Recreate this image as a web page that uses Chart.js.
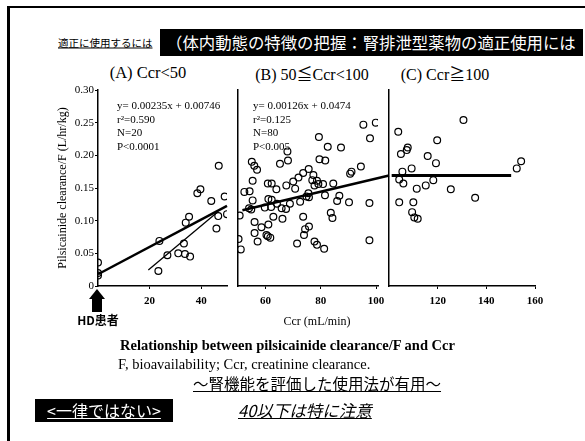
<!DOCTYPE html>
<html>
<head>
<meta charset="utf-8">
<script src="https://cdn.jsdelivr.net/npm/chart.js@4/dist/chart.umd.min.js"></script>
<style>
  body { margin: 0; background: #fff; width: 585px; height: 441px; overflow: hidden; position: relative; }
  .t { position: absolute; white-space: nowrap; color: #000; }
  .serif { font-family: "Liberation Serif", "Noto Sans CJK JP", serif; }
  .jp { font-family: "Noto Sans CJK JP", sans-serif; }
  canvas { position: absolute; }
</style>
</head>
<body>
<div style="position:absolute;left:7px;top:6px;width:620px;height:460px;border:2px solid #000;border-left-width:3px;"></div>

<div class="t jp" style="left:58px;top:42px;transform:translateY(-50%);font-size:10.5px;text-decoration:underline;">適正に使用するには</div>
<div style="position:absolute;left:160px;top:29px;width:423px;height:27px;background:#000;overflow:hidden;">
  <div class="t jp" style="left:6px;top:0;line-height:27px;font-size:16.4px;color:#fff;">（体内動態の特徴の把握：腎排泄型薬物の適正使用には</div>
</div>

<div class="t serif" style="left:148px;top:73px;transform:translate(-50%,-50%);font-size:16.5px;">(A) Ccr&lt;50</div>
<div class="t serif" style="left:312px;top:73px;transform:translate(-50%,-50%);font-size:16px;">(B) 50≦Ccr&lt;100</div>
<div class="t serif" style="left:445px;top:73px;transform:translate(-50%,-50%);font-size:16px;">(C) Ccr≧100</div>

<canvas id="chartA" width="190" height="240" style="left:50px;top:80px;"></canvas>
<canvas id="chartB" width="165" height="240" style="left:230px;top:80px;"></canvas>
<canvas id="chartC" width="200" height="240" style="left:380px;top:80px;"></canvas>

<div class="t serif" style="left:117px;top:99px;font-size:11px;line-height:13.5px;">y= 0.00235x + 0.00746<br>r²=0.590<br>N=20<br>P&lt;0.0001</div>
<div class="t serif" style="left:253px;top:99px;font-size:11px;line-height:13.5px;">y= 0.00126x + 0.0474<br>r²=0.125<br>N=80<br>P&lt;0.005</div>

<div style="position:absolute;left:89px;top:289px;width:0;height:0;border-left:8px solid transparent;border-right:8px solid transparent;border-bottom:10px solid #000;"></div>
<div style="position:absolute;left:92px;top:298px;width:10px;height:14px;background:#000;"></div>
<div class="t jp" style="left:98px;top:319px;transform:translate(-50%,-50%);font-size:12px;font-weight:bold;">HD患者</div>

<div class="t serif" style="left:317px;top:321px;transform:translate(-50%,-50%);font-size:12px;">Ccr (mL/min)</div>
<div class="t serif" style="left:120px;top:345px;transform:translateY(-50%);font-size:14.5px;font-weight:bold;">Relationship between pilsicainide clearance/F and Ccr</div>
<div class="t serif" style="left:118px;top:364px;transform:translateY(-50%);font-size:14.5px;">F, bioavailability; Ccr, creatinine clearance.</div>
<div class="t jp" style="left:193px;top:383px;transform:translateY(-50%);font-size:15.5px;text-decoration:underline;">～腎機能を評価した使用法が有用～</div>
<div class="t jp" style="left:238px;top:410px;transform:translateY(-50%);font-size:16.5px;font-style:italic;text-decoration:underline;">40以下は特に注意</div>
<div style="position:absolute;left:35px;top:399px;width:138px;height:23px;background:#000;">
  <div class="t jp" style="left:0;width:138px;text-align:center;top:0;line-height:23px;font-size:16px;color:#fff;text-decoration:underline;">&lt;一律ではない&gt;</div>
</div>

<script>
// panel A: Ccr < 50 (HD patients at 0)
const ccrA = [0, 0, 0, 23.4, 23.8, 26.9, 31.1, 33.3, 33.7, 35.7, 34.0, 35.3, 38.5, 39.7, 43.9, 46.8, 49.1, 46.6, 50.0, 45.9];
const clA = [0.036, 0.020, 0.016, 0.023, 0.069, 0.047, 0.050, 0.065, 0.049, 0.045, 0.097, 0.106, 0.142, 0.148, 0.130, 0.184, 0.137, 0.107, 0.110, 0.088];
const fitAx = [0, 50];
const fitAy = [0.018, 0.1225];
const fitA2x = [19.5, 46.6];
const fitA2y = [0.0245, 0.114];

// panel B: 50 <= Ccr < 100
const ccrB = [95.4, 99.9, 97.8, 79.3, 82.5, 87.3, 67.9, 68.1, 65.2, 55.0, 55.9, 56.9, 79.5, 81.6,
  75.6, 73.6, 71.9, 70.0, 70.7, 77.3, 78.6, 79.1, 77.7, 80.8, 84.5, 91.1, 90.6, 94.5, 55.3,
  52.3, 54.2, 60.8, 62.2, 63.9, 67.5, 55.3, 61.0, 62.2, 75.5, 74.8, 81.5, 86.7, 85.9, 90.2,
  72.5, 75.7, 68.8, 67.4, 64.1, 62.0, 59.7, 54.0, 54.8, 50.6, 97.6, 62.8, 66.1, 73.6, 83.6,
  84.2, 56.0, 58.5, 61.0, 75.7, 74.3, 73.9, 56.0, 60.3, 60.8, 61.7, 57.1, 71.4, 77.7, 78.6,
  81.2, 97.6, 50.2, 51.0, 76.9, 65.8];
const clB = [0.247, 0.250, 0.226, 0.228, 0.213, 0.212, 0.206, 0.192, 0.187, 0.190, 0.184, 0.178, 0.194, 0.192,
  0.179, 0.173, 0.166, 0.160, 0.149, 0.170, 0.161, 0.156, 0.154, 0.156, 0.157, 0.175, 0.172, 0.183, 0.161,
  0.144, 0.145, 0.157, 0.157, 0.148, 0.154, 0.131, 0.133, 0.132, 0.142, 0.137, 0.139, 0.138, 0.130, 0.128,
  0.129, 0.136, 0.126, 0.118, 0.126, 0.121, 0.120, 0.119, 0.117, 0.108, 0.127, 0.106, 0.103, 0.106, 0.112,
  0.104, 0.098, 0.090, 0.094, 0.091, 0.087, 0.078, 0.081, 0.078, 0.076, 0.074, 0.068, 0.065, 0.068, 0.063,
  0.057, 0.070, 0.072, 0.056, 0.162, 0.119];
const fitBx = [51.6, 104.7];
const fitBy = [0.116, 0.169];

// panel C: Ccr >= 100
const ccrC = [103.8, 104.9, 107.3, 107.7, 105.5, 109.3, 104.2, 105.9, 111.4, 115.9, 119.8, 119.3,
  118.2, 115.1, 104.2, 110.0, 109.5, 110.4, 111.8, 125.4, 130.6, 135.4, 152.5, 154.3];
const clC = [0.236, 0.202, 0.208, 0.212, 0.175, 0.180, 0.163, 0.157, 0.149, 0.199, 0.223, 0.188,
  0.162, 0.154, 0.128, 0.128, 0.113, 0.105, 0.103, 0.148, 0.254, 0.135, 0.180, 0.191];
const fitCx = [101.1, 150.2];
const fitCy = [0.169, 0.169];

const yTicks = [0, 0.05, 0.10, 0.15, 0.20, 0.25, 0.30];
const xTicksA = [20, 40];
const xTicksB = [60, 80, 100];
const xTicksC = [120, 140, 160];

const serif = '"Liberation Serif", serif';

function pts(xs, ys) {
    return xs.map((x, i) => ({x: x, y: ys[i]}));
}

function scatterSet(xs, ys) {
    return {
        type: 'scatter',
        data: pts(xs, ys),
        pointRadius: 3.4,
        pointBorderWidth: 1.2,
        pointBorderColor: '#000',
        pointBackgroundColor: 'rgba(0,0,0,0)',
        showLine: false
    };
}

function lineSet(xs, ys, w) {
    return {
        type: 'line',
        data: pts(xs, ys),
        borderColor: '#000',
        borderWidth: w,
        pointRadius: 0,
        fill: false,
        clip: false
    };
}

function xScale(min, max, ticks) {
    return {
        type: 'linear',
        min: min,
        max: max,
        afterBuildTicks: s => { s.ticks = ticks.map(v => ({value: v})); },
        afterFit: s => { s.height = 34; },
        ticks: {
            color: '#000',
            font: {family: serif, size: 11, weight: 'bold'},
            padding: 6,
            maxRotation: 0,
            autoSkip: false
        },
        grid: {drawOnChartArea: false, tickLength: 3, color: '#000', lineWidth: 1},
        border: {color: '#000', width: 1.5}
    };
}

function makeChart(id, datasets, x, y, padding) {
    return new Chart(document.getElementById(id), {
        type: 'scatter',
        data: {datasets: datasets},
        options: {
            responsive: false,
            animation: false,
            layout: {padding: padding},
            plugins: {legend: {display: false}, tooltip: {enabled: false}},
            scales: {x: x, y: y}
        }
    });
}

const yMain = {
    type: 'linear',
    min: 0,
    max: 0.30,
    afterBuildTicks: s => { s.ticks = yTicks.map(v => ({value: v})); },
    afterFit: s => { s.width = 48; },
    ticks: {
        color: '#000',
        font: {family: serif, size: 11},
        padding: 1,
        callback: v => v === 0 ? '0' : v.toFixed(2)
    },
    grid: {drawOnChartArea: false, tickLength: 3, color: '#000'},
    border: {color: '#000', width: 1.5},
    title: {
        display: true,
        text: 'Pilsicainide clearance/F (L/hr/kg)',
        color: '#000',
        font: {family: serif, size: 12},
        padding: {top: 6, bottom: 0}
    }
};

function yPlain() {
    return {
        type: 'linear',
        min: 0,
        max: 0.30,
        afterFit: s => { s.width = 0; },
        ticks: {display: false},
        grid: {display: false},
        border: {color: '#000', width: 1.5}
    };
}

makeChart('chartA',
    [scatterSet(ccrA, clA), lineSet(fitAx, fitAy, 2.5), lineSet(fitA2x, fitA2y, 1.3)],
    xScale(0, 50, xTicksA), yMain,
    {left: 0, right: 13, top: 10, bottom: 0});

makeChart('chartB',
    [scatterSet(ccrB, clB), lineSet(fitBx, fitBy, 2.5)],
    xScale(50, 100.7, xTicksB), yPlain(),
    {left: 8, right: 17, top: 10, bottom: 0});

makeChart('chartC',
    [scatterSet(ccrC, clC), lineSet(fitCx, fitCy, 3)],
    xScale(100, 160, xTicksC), yPlain(),
    {left: 9, right: 45, top: 10, bottom: 0});
</script>
</body>
</html>
